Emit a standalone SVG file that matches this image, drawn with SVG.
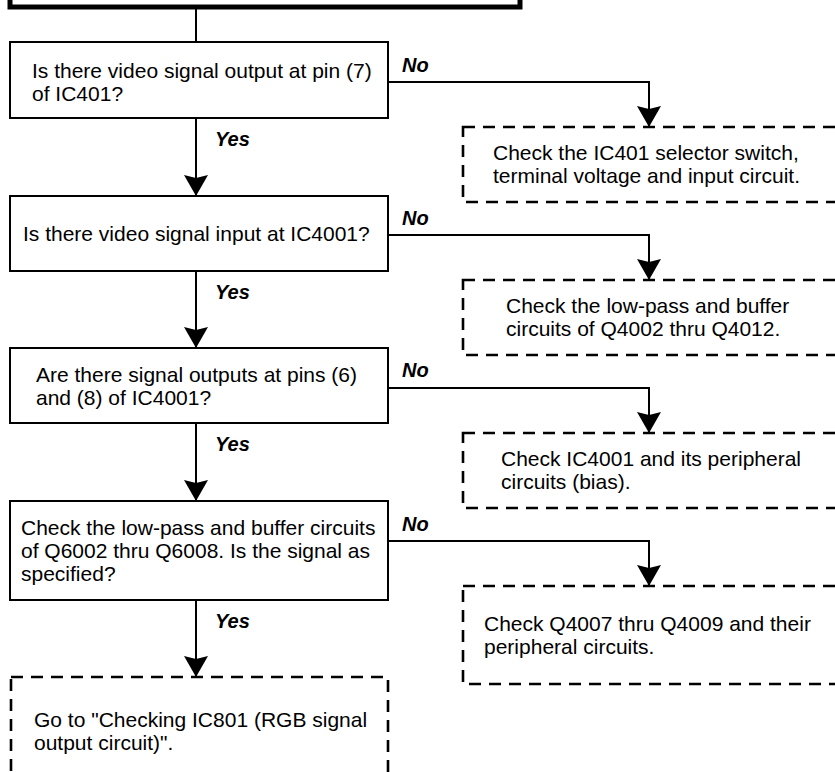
<svg xmlns="http://www.w3.org/2000/svg" width="835" height="772" viewBox="0 0 835 772">
  <style>
    .bg { fill: #ffffff; }
    .start { fill: #ffffff; stroke: #000; stroke-width: 5; }
    .step { fill: #ffffff; stroke: #000; stroke-width: 2; }
    .result { fill: #ffffff; stroke: #000; stroke-width: 2.6; stroke-dasharray: 12 8; }
    .txt { font-family: "Liberation Sans", Arial, Helvetica, sans-serif; font-size: 21px; fill: #000; }
    .lbl { font-family: "Liberation Sans", Arial, Helvetica, sans-serif; font-size: 20px; font-weight: bold; font-style: italic; fill: #000; }
    .link { fill: none; stroke: #000; stroke-width: 2; }
  </style>
  <defs>
    <marker id="head" viewBox="0 0 21 24" refX="21" refY="12" markerWidth="21" markerHeight="24" markerUnits="userSpaceOnUse" orient="auto">
      <path d="M0,0 L21,12 L0,24 L3,12 Z" fill="#000"/>
    </marker>
  </defs>

  <rect class="bg" x="0" y="0" width="835" height="772"/>

  <!-- entry block (only its lower edge is in view) -->
  <g id="start">
    <rect class="start" x="10" y="-40" width="510" height="47"/>
  </g>

  <!-- decision steps -->
  <g id="q1">
    <rect class="step" x="10" y="42" width="378" height="76"/>
    <text class="txt" x="32" y="78">Is there video signal output at pin (7)</text>
    <text class="txt" x="32" y="101">of IC401?</text>
  </g>
  <g id="q2">
    <rect class="step" x="10" y="196" width="378" height="75"/>
    <text class="txt" x="23" y="241">Is there video signal input at IC4001?</text>
  </g>
  <g id="q3">
    <rect class="step" x="10" y="348" width="378" height="75"/>
    <text class="txt" x="36" y="382">Are there signal outputs at pins (6)</text>
    <text class="txt" x="36" y="405">and (8) of IC4001?</text>
  </g>
  <g id="q4">
    <rect class="step" x="10" y="501" width="378" height="99"/>
    <text class="txt" x="21" y="535">Check the low-pass and buffer circuits</text>
    <text class="txt" x="21" y="558">of Q6002 thru Q6008. Is the signal as</text>
    <text class="txt" x="21" y="581">specified?</text>
  </g>

  <!-- remedies for a "No" answer -->
  <g id="fix1">
    <rect class="result" x="463" y="127" width="400" height="75"/>
    <text class="txt" x="493" y="160">Check the IC401 selector switch,</text>
    <text class="txt" x="493" y="183">terminal voltage and input circuit.</text>
  </g>
  <g id="fix2">
    <rect class="result" x="463" y="280" width="400" height="75"/>
    <text class="txt" x="506" y="313">Check the low-pass and buffer</text>
    <text class="txt" x="506" y="336">circuits of Q4002 thru Q4012.</text>
  </g>
  <g id="fix3">
    <rect class="result" x="463" y="433" width="400" height="75"/>
    <text class="txt" x="501" y="466">Check IC4001 and its peripheral</text>
    <text class="txt" x="501" y="489">circuits (bias).</text>
  </g>
  <g id="fix4">
    <rect class="result" x="463" y="586" width="400" height="98"/>
    <text class="txt" x="484" y="631">Check Q4007 thru Q4009 and their</text>
    <text class="txt" x="484" y="654">peripheral circuits.</text>
  </g>

  <!-- next procedure -->
  <g id="next">
    <rect class="result" x="11" y="677" width="377" height="120"/>
    <text class="txt" x="34" y="727">Go to "Checking IC801 (RGB signal</text>
    <text class="txt" x="34" y="750">output circuit)".</text>
  </g>

  <!-- connectors -->
  <g id="connectors">
    <path class="link" d="M196,9 V42"/>
    <path class="link" d="M196,118 V196" marker-end="url(#head)"/>
    <path class="link" d="M196,271 V348" marker-end="url(#head)"/>
    <path class="link" d="M196,423 V501" marker-end="url(#head)"/>
    <path class="link" d="M196,600 V677" marker-end="url(#head)"/>

    <path class="link" d="M388,82 H649 V127" marker-end="url(#head)"/>
    <path class="link" d="M388,235 H649 V280" marker-end="url(#head)"/>
    <path class="link" d="M388,388 H649 V433" marker-end="url(#head)"/>
    <path class="link" d="M388,541 H649 V586" marker-end="url(#head)"/>

    <text class="lbl" x="215" y="146">Yes</text>
    <text class="lbl" x="215" y="299">Yes</text>
    <text class="lbl" x="215" y="451">Yes</text>
    <text class="lbl" x="215" y="628">Yes</text>

    <text class="lbl" x="402" y="72">No</text>
    <text class="lbl" x="402" y="225">No</text>
    <text class="lbl" x="402" y="377">No</text>
    <text class="lbl" x="402" y="531">No</text>
  </g>
</svg>
